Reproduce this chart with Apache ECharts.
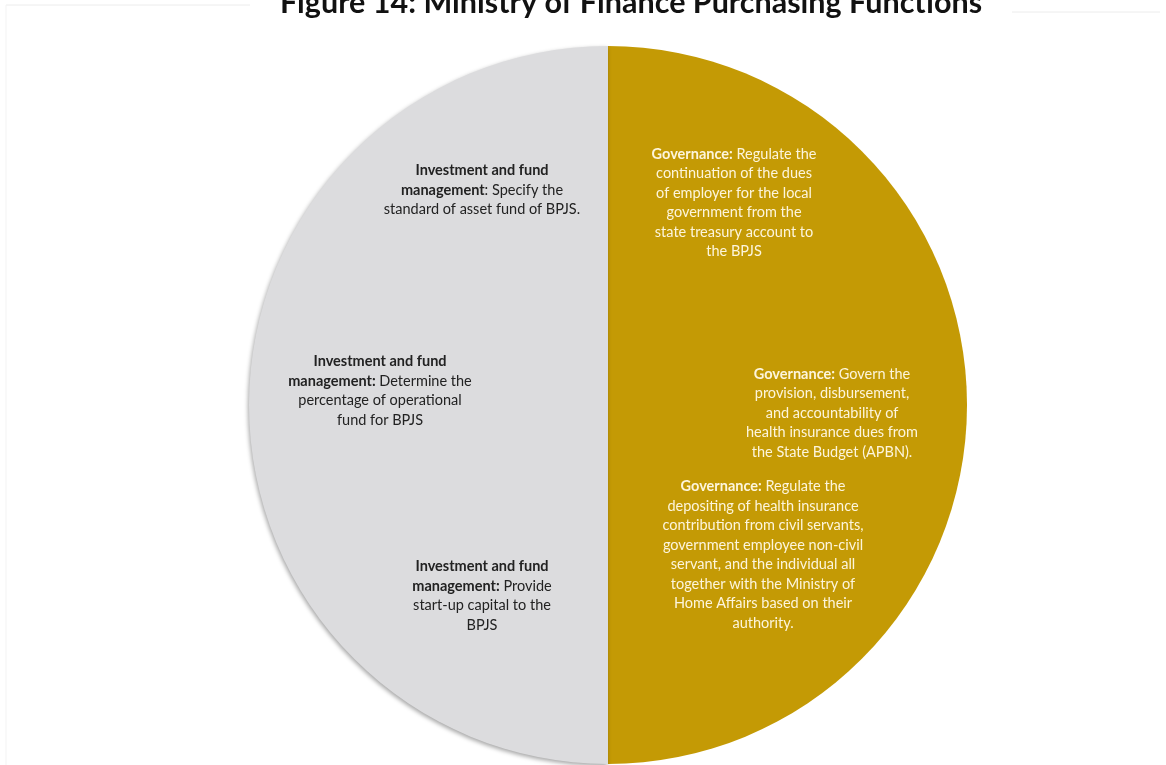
<!DOCTYPE html>
<html>
<head>
<meta charset="utf-8">
<title>Ministry of Finance Purchasing Functions</title>
<script src="https://cdn.jsdelivr.net/npm/echarts@6/dist/echarts.min.js"></script>
<style>
  html, body { margin: 0; padding: 0; background: #ffffff; }
  #chart { width: 1166px; height: 765px; }
</style>
</head>
<body>
<div id="chart"></div>
<script>
// Slices: two equal halves
const sliceNames = ["Governance", "Investment and fund management"];
const sliceValues = [1, 1];

// Notes inside the gold half: [bold heading, regular text]
const governanceNotes = [
  ["Governance:", " Regulate the\ncontinuation of the dues\nof employer for the local\ngovernment from the\nstate treasury account to\nthe BPJS"],
  ["Governance:", " Govern the\nprovision, disbursement,\nand accountability of\nhealth insurance dues from\nthe State Budget (APBN)."],
  ["Governance:", " Regulate the\ndepositing of health insurance\ncontribution from civil servants,\ngovernment employee non-civil\nservant, and the individual all\ntogether with the Ministry of\nHome Affairs based on their\nauthority."],
];

// Notes inside the grey half
const investmentNotes = [
  ["Investment and fund\nmanagement", ": Specify the\nstandard of asset fund of BPJS."],
  ["Investment and fund\nmanagement:", " Determine the\npercentage of operational\nfund for BPJS"],
  ["Investment and fund\nmanagement:", " Provide\nstart-up capital to the\nBPJS"],
];

const titleText = "Figure 14: Ministry of Finance Purchasing Functions";

// layout of the note blocks (centre x, middle y)
const governancePos = [[734, 203], [832, 413], [763, 555]];
const investmentPos = [[482, 190], [380, 391], [482, 596]];

const chart = echarts.init(document.getElementById("chart"));

// build a centred rich-text block
function noteBlock(note, pos, color) {
  return {
    type: "text",
    x: pos[0],
    y: pos[1],
    z: 10,
    style: {
      text: "{b|" + note[0] + "}{r|" + note[1] + "}",
      align: "center",
      verticalAlign: "middle",
      fill: color,
      rich: {
        b: { fontFamily: "Lato", fontSize: 14.5, fontWeight: "bold", lineHeight: 19.5, fill: color, align: "center" },
        r: { fontFamily: "Lato", fontSize: 14.5, lineHeight: 19.5, fill: color, align: "center" },
      },
    },
  };
}

const graphics = [
  // faint page frame
  { type: "line", shape: { x1: 6, y1: 5, x2: 250, y2: 5 }, style: { stroke: "#ececec", lineWidth: 1 } },
  { type: "line", shape: { x1: 6, y1: 5, x2: 6, y2: 765 }, style: { stroke: "#f3f3f3", lineWidth: 1 } },
  { type: "line", shape: { x1: 1012, y1: 12, x2: 1160, y2: 12 }, style: { stroke: "#ececec", lineWidth: 1 } },
  // title (cut at top like the reference)
  {
    type: "text",
    x: 631,
    y: 3,
    style: {
      text: titleText,
      align: "center",
      verticalAlign: "middle",
      fontFamily: "Lato",
      fontWeight: "bold",
      fontSize: 30.5,
      fill: "#111111",
    },
  },
];
governanceNotes.forEach((n, i) => graphics.push(noteBlock(n, governancePos[i], "#fdf5dc")));
investmentNotes.forEach((n, i) => graphics.push(noteBlock(n, investmentPos[i], "#222222")));

chart.setOption({
  animation: false,
  backgroundColor: "#ffffff",
  graphic: graphics,
  series: [
    {
      type: "pie",
      center: [608, 405],
      radius: 359,
      startAngle: 90,
      clockwise: true,
      silent: true,
      label: { show: false },
      labelLine: { show: false },
      data: sliceNames.map((name, i) => ({
        name: name,
        value: sliceValues[i],
        itemStyle: i === 0
          ? { color: "#c49a05" }
          : { color: "#dcdcde", shadowBlur: 4, shadowColor: "rgba(0,0,0,0.35)", shadowOffsetX: -1, shadowOffsetY: 2 },
      })),
      itemStyle: { borderWidth: 0 },
    },
  ],
});
</script>
</body>
</html>
